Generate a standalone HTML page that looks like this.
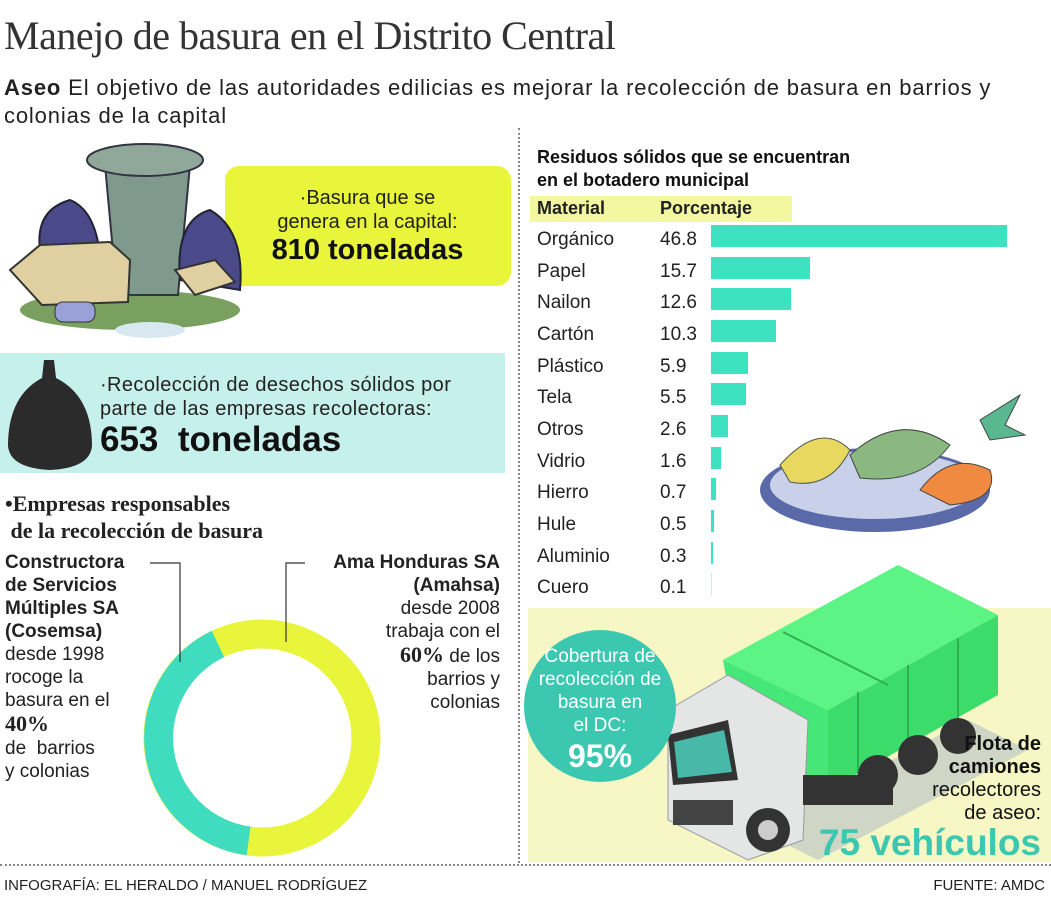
<!DOCTYPE html>
<html><head><meta charset="utf-8"><style>
body{margin:0;width:1051px;height:900px;background:#fff;position:relative;overflow:hidden;font-family:"Liberation Sans",sans-serif;color:#222}
.a{position:absolute;white-space:nowrap}
.t{font-size:19px;line-height:23px}
.b{font-weight:bold}
</style></head><body>
<div class="a" style="left:4px;top:12px;font-family:'Liberation Serif',serif;font-size:40px;color:#333;letter-spacing:-0.5px">Manejo de basura en el Distrito Central</div>
<div class="a" style="left:4px;top:74px;font-size:22px;letter-spacing:0.85px;line-height:28px;color:#222"><b>Aseo</b> El objetivo de las autoridades edilicias es mejorar la recolección de basura en barrios y<br>colonias de la capital</div>
<div class="a" style="left:518px;top:128px;height:735px;border-left:2px dotted #888"></div>
<div class="a" style="left:0;top:864px;width:1051px;border-top:2px dotted #888"></div>
<div class="a" style="left:4px;top:877px;font-size:15px;color:#222">INFOGRAFÍA: EL HERALDO / MANUEL RODRÍGUEZ</div>
<div class="a" style="right:6px;top:877px;font-size:15px;color:#222">FUENTE: AMDC</div>

<div class="a" style="left:225px;top:166px;width:286px;height:120px;background:#e8f53a;border-radius:14px"></div>
<div class="a" style="left:230px;top:186px;width:275px;text-align:center;font-size:20px;line-height:24px;color:#222">·Basura que se<br>genera en la capital:</div>
<div class="a" style="left:230px;top:234px;width:275px;text-align:center;font-size:29px;font-weight:bold;color:#111">810 toneladas</div>
<svg class="a" style="left:0;top:130px" width="260" height="215">
<ellipse cx="130" cy="180" rx="110" ry="20" fill="#7aa060"/>
<polygon points="105,35 190,35 178,165 117,165" fill="#7f9a8c" stroke="#334" stroke-width="2"/>
<ellipse cx="145" cy="30" rx="58" ry="16" fill="#8fa89a" stroke="#334" stroke-width="2"/>
<path d="M40,120 Q35,80 70,70 Q95,80 100,125 Z" fill="#4a4a8a" stroke="#223" stroke-width="2"/>
<path d="M180,150 Q175,90 210,80 Q245,100 240,160 Z" fill="#4a4a8a" stroke="#223" stroke-width="2"/>
<polygon points="10,140 40,115 110,112 130,130 128,172 42,175" fill="#e0cfa0" stroke="#333" stroke-width="2"/>
<polygon points="175,140 215,130 235,152 195,165" fill="#e0cfa0" stroke="#333" stroke-width="2"/>
<rect x="55" y="172" width="40" height="20" rx="8" fill="#9aa0d8" stroke="#333"/>
<ellipse cx="150" cy="200" rx="35" ry="8" fill="#d8e8f0"/>
</svg>

<div class="a" style="left:0;top:353px;width:505px;height:120px;background:#c6f0ec"></div>
<svg class="a" style="left:4px;top:356px" width="92" height="116"><path d="M40,4 L50,4 L52,22 Q88,40 88,90 Q86,112 46,114 Q6,112 4,90 Q4,40 38,22 Z" fill="#2b2b2b"/></svg>
<div class="a" style="left:100px;top:373px;font-size:20px;letter-spacing:0.4px;line-height:24px;color:#222">·Recolección de desechos sólidos por<br>parte de las empresas recolectoras:</div>
<div class="a" style="left:100px;top:420px;font-size:35px;font-weight:bold;color:#111">653&nbsp; toneladas</div>

<div class="a" style="left:5px;top:490px;font-family:'Liberation Serif',serif;font-weight:bold;font-size:22px;line-height:27px">•Empresas responsables<br>&nbsp;de la recolección de basura</div>
<div class="a t" style="left:5px;top:551px"><b>Constructora<br>de Servicios<br>Múltiples SA<br>(Cosemsa)</b><br>desde 1998<br>rocoge la<br>basura en el<br><span style="font-family:'Liberation Serif',serif;font-weight:bold;font-size:22px">40%</span><br>de&nbsp; barrios<br>y colonias</div>
<div class="a t" style="right:551px;top:551px;text-align:right"><b>Ama Honduras SA<br>(Amahsa)</b><br>desde 2008<br>trabaja con el<br><span style="font-family:'Liberation Serif',serif;font-weight:bold;font-size:22px">60%</span> de los<br>barrios y<br>colonias</div>
<svg class="a" style="left:0;top:0" width="519" height="864">
<circle cx="262" cy="738" r="104" fill="none" stroke="#e8f53a" stroke-width="29"/>
<path d="M248.6,841 A104,104 0 0,1 218,644" fill="none" stroke="#40dcc0" stroke-width="29"/>
<polyline points="150,563 180,563 180,662" fill="none" stroke="#333" stroke-width="1.2"/>
<polyline points="305,563 286,563 286,642" fill="none" stroke="#333" stroke-width="1.2"/>
</svg>

<div class="a b" style="left:537px;top:146px;font-size:18px;line-height:23px;color:#111">Residuos sólidos que se encuentran<br>en el botadero municipal</div>
<div class="a" style="left:530px;top:196px;width:262px;height:26px;background:#f2f7a0"></div>
<div class="a b" style="left:537px;top:198px;font-size:18px">Material</div>
<div class="a b" style="left:660px;top:198px;font-size:18px">Porcentaje</div>
<svg class="a" style="left:520px;top:220px" width="531" height="380" font-family="Liberation Sans" font-size="19" fill="#222">
<g>
<text x="17" y="25">Orgánico</text><text x="140" y="25">46.8</text><rect x="191" y="5" width="296" height="22" fill="#3de3c0"/>
<text x="17" y="57">Papel</text><text x="140" y="57">15.7</text><rect x="191" y="37" width="99" height="22" fill="#3de3c0"/>
<text x="17" y="88">Nailon</text><text x="140" y="88">12.6</text><rect x="191" y="68" width="80" height="22" fill="#3de3c0"/>
<text x="17" y="120">Cartón</text><text x="140" y="120">10.3</text><rect x="191" y="100" width="65" height="22" fill="#3de3c0"/>
<text x="17" y="152">Plástico</text><text x="140" y="152">5.9</text><rect x="191" y="132" width="37" height="22" fill="#3de3c0"/>
<text x="17" y="183">Tela</text><text x="140" y="183">5.5</text><rect x="191" y="163" width="35" height="22" fill="#3de3c0"/>
<text x="17" y="215">Otros</text><text x="140" y="215">2.6</text><rect x="191" y="195" width="17" height="22" fill="#3de3c0"/>
<text x="17" y="247">Vidrio</text><text x="140" y="247">1.6</text><rect x="191" y="227" width="10" height="22" fill="#3de3c0"/>
<text x="17" y="278">Hierro</text><text x="140" y="278">0.7</text><rect x="191" y="258" width="5" height="22" fill="#3de3c0"/>
<text x="17" y="310">Hule</text><text x="140" y="310">0.5</text><rect x="191" y="290" width="3" height="22" fill="#3de3c0"/>
<text x="17" y="342">Aluminio</text><text x="140" y="342">0.3</text><rect x="191" y="322" width="2" height="22" fill="#3de3c0"/>
<text x="17" y="373">Cuero</text><text x="140" y="373">0.1</text><rect x="191" y="353" width="1" height="22" fill="#bfeee4"/>
</g>
<ellipse cx="355" cy="270" rx="115" ry="42" fill="#5a6aa8"/>
<ellipse cx="355" cy="265" rx="105" ry="34" fill="#c8d0ea"/>
<path d="M260,245 Q300,200 330,230 Q310,270 270,262 Z" fill="#e8d860" stroke="#555"/>
<path d="M330,235 Q380,190 430,225 Q400,265 340,258 Z" fill="#8ab880" stroke="#444"/>
<path d="M400,270 Q430,230 470,250 Q480,280 430,285 Z" fill="#f08a40" stroke="#444"/>
<path d="M460,200 L500,175 L485,205 L505,215 L470,220 Z" fill="#5ab890" stroke="#444"/>
</svg>

<div class="a" style="left:528px;top:608px;width:523px;height:254px;background:#f6f7c4"></div>
<svg class="a" style="left:528px;top:560px" width="523" height="304">
<polygon points="230,270 440,160 500,190 290,300" fill="#b8c0c8" opacity="0.6"/>
<polygon points="195,100 370,5 470,55 300,150" fill="#5cf585"/>
<polygon points="300,150 470,55 470,135 300,230" fill="#3cdc6a"/>
<polygon points="195,100 300,150 300,230 215,210" fill="#45e878"/>
<line x1="255" y1="72" x2="360" y2="125" stroke="#2fb050" stroke-width="2"/>
<line x1="330" y1="132" x2="330" y2="215" stroke="#2fb050" stroke-width="2"/>
<line x1="380" y1="105" x2="380" y2="190" stroke="#2fb050" stroke-width="2"/>
<line x1="430" y1="78" x2="430" y2="160" stroke="#2fb050" stroke-width="2"/>
<text x="238" y="170" font-size="30" fill="#e8ffe8" font-family="DejaVu Sans">♻</text>
<polygon points="140,150 200,115 280,160 275,280 220,300 140,260" fill="#e4e6e6" stroke="#999"/>
<polygon points="140,175 200,160 210,220 145,225" fill="#333"/>
<polygon points="146,182 196,170 204,212 150,218" fill="#48b8a8"/>
<rect x="145" y="240" width="60" height="25" fill="#444"/>
<rect x="275" y="215" width="90" height="30" fill="#333"/>
<circle cx="240" cy="270" r="22" fill="#333"/><circle cx="240" cy="270" r="10" fill="#ccc"/>
<circle cx="350" cy="215" r="20" fill="#333"/><circle cx="390" cy="195" r="20" fill="#333"/><circle cx="430" cy="176" r="18" fill="#333"/>
</svg>
<div class="a" style="left:524px;top:630px;width:152px;height:152px;border-radius:50%;background:#3cc8b0"></div>
<div class="a" style="left:524px;top:645px;width:152px;text-align:center;color:#fff;font-size:19px;line-height:23px">Cobertura de<br>recolección de<br>basura en<br>el DC:</div>
<div class="a" style="left:524px;top:738px;width:152px;text-align:center;color:#fff;font-size:32px;font-weight:bold">95%</div>
<div class="a" style="right:10px;top:733px;text-align:right;font-size:20px;line-height:23px;color:#111"><b>Flota de<br>camiones</b><br>recolectores<br>de aseo:</div>
<div class="a b" style="right:10px;top:822px;font-size:37px;color:#3cc8b0">75 vehículos</div>
</body></html>
